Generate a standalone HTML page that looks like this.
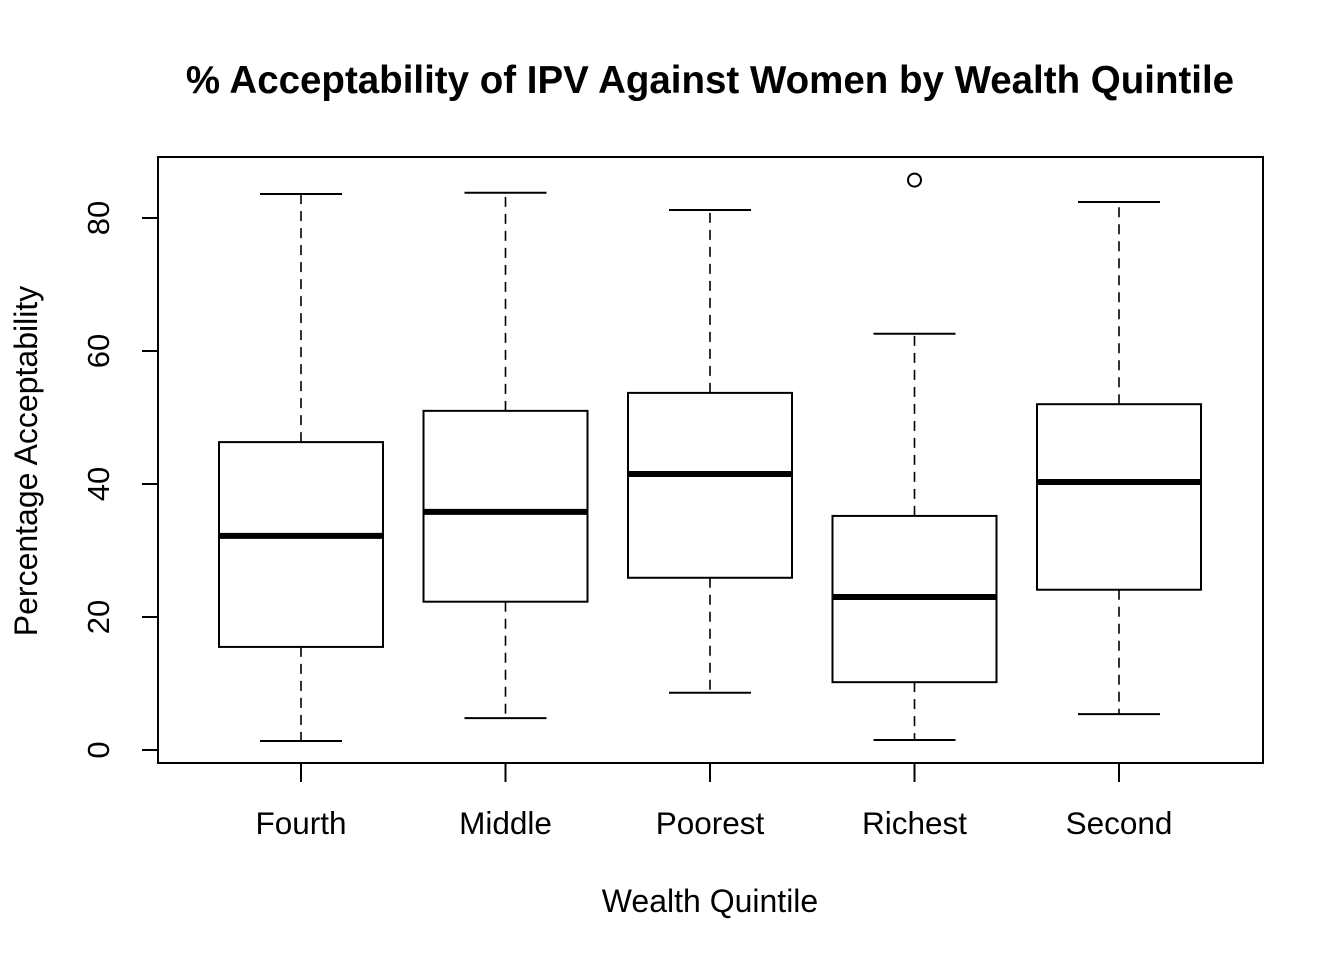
<!DOCTYPE html>
<html><head><meta charset="utf-8"><style>
html,body{margin:0;padding:0;background:#fff;}
svg{display:block;font-family:"Liberation Sans",Arial,sans-serif;}
</style></head><body>
<svg id="chart" width="1344" height="960" viewBox="0 0 1344 960">
<text x="710" y="93" text-anchor="middle" font-size="38.5" font-weight="bold">% Acceptability of IPV Against Women by Wealth Quintile</text>
<rect x="158" y="157" width="1105" height="606" fill="none" stroke="#000" stroke-width="2"/>
<g id="yaxis"></g>
<g id="xaxis"></g>
<g id="boxes"></g>
<text x="710" y="912" text-anchor="middle" font-size="32">Wealth Quintile</text>
<text transform="translate(37,461) rotate(-90)" text-anchor="middle" font-size="32">Percentage Acceptability</text>
</svg>
<script>
const categories = ["Fourth","Middle","Poorest","Richest","Second"];
const whiskerLow = [1.35, 4.8, 8.6, 1.5, 5.4];
const q1 = [15.5, 22.3, 25.9, 10.2, 24.1];
const medians = [32.2, 35.8, 41.5, 23.0, 40.3];
const q3 = [46.3, 51.0, 53.7, 35.2, 52.0];
const whiskerHigh = [83.6, 83.8, 81.2, 62.6, 82.4];
const outlierCat = [3];
const outlierVal = [85.7];
const yTicks = [0, 20, 40, 60, 80];

const NS = "http://www.w3.org/2000/svg";
function y(v){ return 750 - v * 6.65; }
function x(i){ return 301 + i * 204.5; }
function mk(parent, tag, attrs){
  const e = document.createElementNS(NS, tag);
  for (const k in attrs) e.setAttribute(k, attrs[k]);
  parent.appendChild(e); return e;
}
const ya = document.getElementById('yaxis');
yTicks.forEach(t => {
  const l = mk(ya, 'line', {x1:158, x2:142, y1:y(t), y2:y(t), stroke:'#000', 'stroke-width':2});
  
  
  const tx = mk(ya, 'text', {transform:`translate(109,${y(t)}) rotate(-90)`, 'text-anchor':'middle', 'font-size':31});
  tx.textContent = t;
  
  
});
const xa = document.getElementById('xaxis');
const bx = document.getElementById('boxes');
categories.forEach((c, i) => {
  const cx = x(i);
  const l = mk(xa, 'line', {x1:cx, x2:cx, y1:763, y2:782, stroke:'#000', 'stroke-width':2});
  
  
  const tx = mk(xa, 'text', {x:cx, y:834, 'text-anchor':'middle', 'font-size':31.5});
  tx.textContent = c;
  
  
  const g = mk(bx, 'g', {});
  
  
  const dash = {stroke:'#000', 'stroke-width':1.6, 'stroke-dasharray':'10,7'};
  mk(g, 'line', Object.assign({x1:cx, x2:cx, y1:y(q3[i]), y2:y(whiskerHigh[i])}, dash));
  mk(g, 'line', Object.assign({x1:cx, x2:cx, y1:y(q1[i]), y2:y(whiskerLow[i])}, dash));
  mk(g, 'line', {x1:cx-41, x2:cx+41, y1:y(whiskerHigh[i]), y2:y(whiskerHigh[i]), stroke:'#000', 'stroke-width':2});
  mk(g, 'line', {x1:cx-41, x2:cx+41, y1:y(whiskerLow[i]), y2:y(whiskerLow[i]), stroke:'#000', 'stroke-width':2});
  mk(g, 'rect', {x:cx-82, y:y(q3[i]), width:164, height:y(q1[i])-y(q3[i]), fill:'#fff', stroke:'#000', 'stroke-width':2});
  mk(g, 'line', {x1:cx-82, x2:cx+82, y1:y(medians[i]), y2:y(medians[i]), stroke:'#000', 'stroke-width':6});
});
outlierCat.forEach((ci, k) => {
  const o = mk(bx, 'circle', {cx:x(ci), cy:y(outlierVal[k]), r:6.5, fill:'none', stroke:'#000', 'stroke-width':2});
  
  
});
</script>
</body></html>
